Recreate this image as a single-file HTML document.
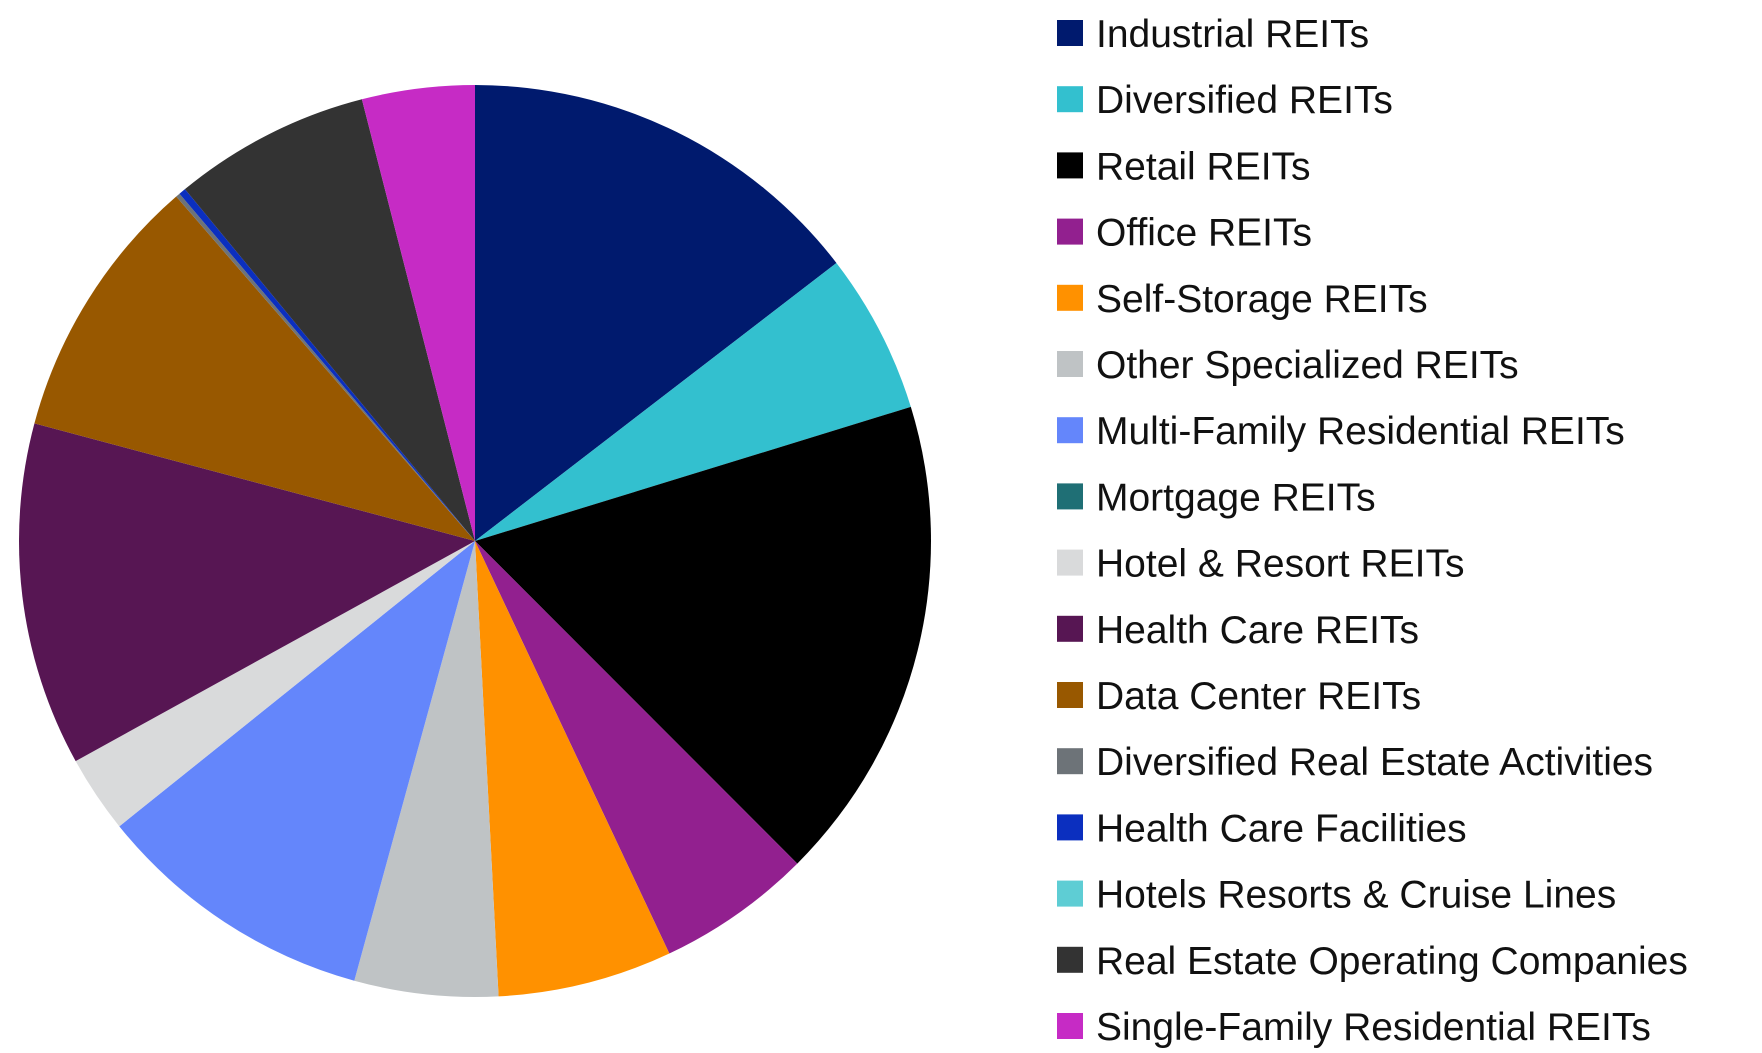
<!DOCTYPE html>
<html><head><meta charset="utf-8"><style>
html,body{margin:0;padding:0;background:#fff;}
svg{display:block;font-family:"Liberation Sans",sans-serif;}
</style></head><body>
<svg id="chart" width="1762" height="1053" viewBox="0 0 1762 1053" xmlns="http://www.w3.org/2000/svg">
<g id="pie"></g>
<g id="legend"></g>
</svg>
<script>
const categories = ["Industrial REITs","Diversified REITs","Retail REITs","Office REITs","Self-Storage REITs","Other Specialized REITs","Multi-Family Residential REITs","Mortgage REITs","Hotel & Resort REITs","Health Care REITs","Data Center REITs","Diversified Real Estate Activities","Health Care Facilities","Hotels Resorts & Cruise Lines","Real Estate Operating Companies","Single-Family Residential REITs"];
const values = [14.6,5.7,17.3,5.5,6.2,5.1,10.0,0.0,2.75,12.2,9.5,0.15,0.25,0.0,7.0,4.0];
const colors = ["#001a6e","#33c0cf","#000000","#92208f","#ff9100","#bfc3c5","#6486fb","#1f6f75","#d9dadb","#571653","#985800","#6d7378","#0b2fbf","#5ecdd4","#333333","#c62bc5"];
const NS="http://www.w3.org/2000/svg";
const cx=475, cy=541, r=456;
const total=values.reduce((a,b)=>a+b,0);
const pie=document.getElementById('pie');
function pt(a){return [cx+r*Math.sin(a), cy-r*Math.cos(a)];}
let acc=0;
values.forEach((v,i)=>{
  if(v<=0) return;
  const a0=acc/total*2*Math.PI; acc+=v; const a1=acc/total*2*Math.PI;
  const p0=pt(a0), p1=pt(a1);
  const large=(a1-a0)>Math.PI?1:0;
  const path=document.createElementNS(NS,'path');
  path.setAttribute('d',`M${cx},${cy} L${p0[0]},${p0[1]} A${r},${r} 0 ${large} 1 ${p1[0]},${p1[1]} Z`);
  path.setAttribute('fill',colors[i]);
  
  
  pie.appendChild(path);
});
const legend=document.getElementById('legend');
categories.forEach((c,i)=>{
  const y=33+66.2*i;
  const g=document.createElementNS(NS,'g');
  
  
  const rc=document.createElementNS(NS,'rect');
  rc.setAttribute('x',1057); rc.setAttribute('y',y-13); rc.setAttribute('width',26); rc.setAttribute('height',26);
  rc.setAttribute('fill',colors[i]);
  
  
  const t=document.createElementNS(NS,'text');
  t.setAttribute('x',1096); t.setAttribute('y',y+14);
  t.setAttribute('font-size','39'); t.setAttribute('fill','#111');
  
  
  t.textContent=c;
  g.appendChild(rc); g.appendChild(t); legend.appendChild(g);
});
</script>
</body></html>
